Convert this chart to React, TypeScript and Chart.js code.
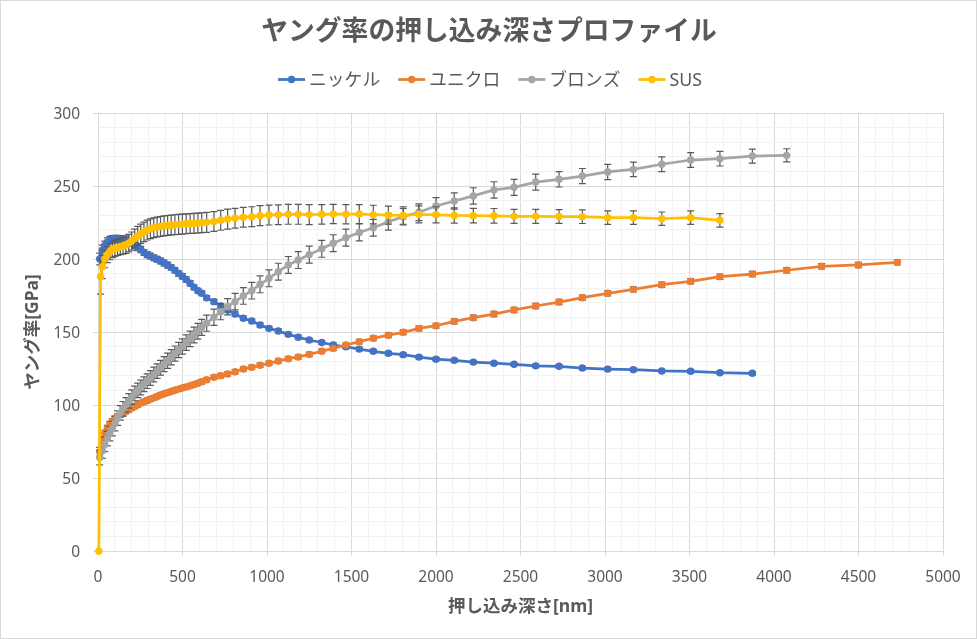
import React, { useEffect, useRef } from 'react';
import { Chart, registerables } from 'chart.js';

Chart.register(...registerables);

const TITLE = 'ヤング率の押し込み深さプロファイル';
const X_TITLE = '押し込み深さ[nm]';
const Y_TITLE = 'ヤング率[GPa]';
const SERIES_NAMES = ['ニッケル', 'ユニクロ', 'ブロンズ', 'SUS'];
const COLORS = ['#4472C4', '#ED7D31', '#A5A5A5', '#FFC000'];

// shared indentation depth grid [nm]
const DEPTH = [
  10, 25, 40, 55, 70, 85, 100, 116, 132, 148,
  165, 182, 199, 217, 235, 253, 272, 291, 310, 330,
  350, 370, 391, 412, 433, 455, 477, 499, 522, 545,
  568, 591, 614, 643, 686, 726, 767, 811, 860, 910,
  959, 1012, 1067, 1126, 1185, 1250, 1324, 1392, 1467, 1546,
  1629, 1718, 1806, 1899, 2000, 2108, 2221, 2343, 2462, 2590,
  2728, 2866, 3016, 3168, 3336, 3507, 3680, 3872, 4075, 4282,
  4499, 4730,
];

const NICKEL = [
  200, 206, 209.2, 211.5, 213, 213.5, 213.7, 213.7, 213.5, 213.2,
  212.8, 212, 210.8, 209.5, 208, 206.5, 204.5, 203, 202, 200.8,
  199.8, 198.6, 197.3, 195.8, 194.2, 192.3, 190.1, 188.2, 186, 183.4,
  180.6, 178.3, 176.5, 173.4, 170.8, 167.8, 165.1, 162.3, 159.4, 157.5,
  154.8, 152.5, 150.7, 148.4, 146.4, 144.5, 142.8, 141.1, 139.9, 138.3,
  136.8, 135.4, 134.5, 132.8, 131.4, 130.6, 129.4, 128.6, 127.9, 126.8,
  126.5, 125.3, 124.6, 124.2, 123.3, 123.1, 122.1, 121.7,
];
const NICKEL_ERR = [
  4, 3.5, 3, 3, 2.5, 2.5, 2.5, 2.5, 2.5, 2.5,
  2.2, 2.2, 2.2, 2.2, 2.2, 2.2, 2, 2, 2, 2,
  2, 2, 2, 2, 1.8, 1.8, 1.8, 1.8, 1.8, 1.8,
  1.6, 1.6, 1.6, 1.5, 1.5, 1.5, 1.5, 1.5, 1.5, 1.5,
  1.4, 1.4, 1.4, 1.4, 1.4, 1.4, 1.3, 1.3, 1.3, 1.3,
  1.3, 1.3, 1.3, 1.2, 1.2, 1.2, 1.2, 1.2, 1.2, 1.2,
  1.2, 1.2, 1.2, 1.2, 1.2, 1.2, 1.2, 1.2,
];

const UNICHRO = [
  68, 75.5, 80.5, 84, 86.8, 88.8, 90.6, 92.1, 93.3, 94.4,
  95.6, 96.8, 97.9, 99.1, 100.2, 101.3, 102.3, 103.1, 104, 104.9,
  105.8, 106.8, 107.7, 108.5, 109.3, 110.1, 110.9, 111.7, 112.4, 113.2,
  114, 114.9, 116, 117.3, 119, 120.1, 121.2, 122.8, 124.7, 125.8,
  127.2, 128.6, 130.1, 131.7, 132.9, 134.7, 136.8, 138.8, 141.1, 143.4,
  145.7, 147.8, 149.8, 152.5, 154.3, 157.3, 159.8, 162.3, 165.1, 167.8,
  170.5, 173.5, 176.5, 179.2, 182.4, 184.7, 187.9, 189.7, 192.3, 195.0,
  195.9, 197.7,
];
const UNICHRO_ERR = [
  3, 2.5, 2.2, 2, 2, 1.8, 1.8, 1.8, 1.8, 1.8,
  1.6, 1.6, 1.6, 1.6, 1.6, 1.6, 1.6, 1.6, 1.6, 1.6,
  1.5, 1.5, 1.5, 1.5, 1.5, 1.5, 1.5, 1.5, 1.5, 1.5,
  1.5, 1.5, 1.5, 1.5, 1.5, 1.5, 1.5, 1.5, 1.5, 1.5,
  1.5, 1.5, 1.5, 1.5, 1.5, 1.5, 1.5, 1.5, 1.5, 1.6,
  1.6, 1.6, 1.6, 1.7, 1.7, 1.7, 1.7, 1.8, 1.8, 1.8,
  1.8, 1.8, 1.8, 1.8, 1.8, 1.8, 1.8, 1.8, 1.8, 1.8,
  1.8, 1.8,
];

const BRONZE = [
  64, 68.5, 73, 77, 80.4, 83.8, 87.3, 91, 94.6, 97.4,
  100.1, 102.8, 105.4, 107.9, 110, 112, 114.2, 116.3, 118.5, 120.9,
  123.2, 125.5, 128, 130.3, 132.7, 135.2, 137.7, 140.1, 142.7, 145.3,
  147.9, 150.5, 153.2, 156, 160.1, 163.9, 167.3, 170.8, 174.7, 178.3,
  182.7, 186.8, 191.3, 195.9, 199.3, 203, 207, 210.8, 214.6, 218.2,
  221.4, 225.5, 229, 232, 236.3, 239.7, 243.2, 247.3, 249.1, 252.7,
  254.6, 256.8, 259.6, 261.4, 264.9, 267.8, 268.7, 270.5, 271,
];
const BRONZE_ERR = [
  5, 5, 5, 5, 5, 5, 5, 5, 5, 5,
  5, 5, 5, 5, 5, 5, 5, 5, 5, 5,
  5, 5, 5.2, 5.2, 5.2, 5.2, 5.2, 5.2, 5.3, 5.3,
  5.4, 5.4, 5.5, 5.5, 5.5, 5.5, 5.6, 5.6, 5.7, 5.7,
  5.8, 5.8, 5.8, 5.8, 5.8, 5.8, 5.8, 5.8, 5.8, 5.8,
  5.8, 5.7, 5.7, 5.7, 5.7, 5.6, 5.6, 5.6, 5.5, 5.5,
  5.3, 5.2, 5.2, 5, 5, 5, 5, 4.8, 4.5,
];

const SUS_DEPTH = [
  5, 15,
  25, 40, 55, 70, 85, 100, 116, 132, 148,
  165, 182, 199, 217, 235, 253, 272, 291, 310, 330,
  350, 370, 391, 412, 433, 455, 477, 499, 522, 545,
  568, 591, 614, 643, 686, 726, 767, 811, 860, 910,
  959, 1012, 1067, 1126, 1185, 1250, 1324, 1392, 1467, 1546,
  1629, 1718, 1806, 1899, 2000, 2108, 2221, 2343, 2462, 2590,
  2728, 2866, 3016, 3168, 3336, 3507, 3680,
];
const SUS = [
  0, 188,
  194.5, 200, 203, 205, 206.5, 207.3, 207.9, 208.5, 209.1,
  209.8, 210.9, 212.3, 214, 215.8, 217.3, 218.6, 219.8, 220.7, 221.4,
  221.9, 222.3, 222.7, 223, 223.3, 223.5, 223.7, 223.9, 224.1, 224.3,
  224.4, 224.6, 224.8, 225.1, 225.7, 226.5, 227.3, 227.9, 228.6, 229,
  229.7, 230.1, 230.3, 230.6, 230.6, 230.4, 230.6, 230.8, 230.7, 230.8,
  230.4, 230, 229.8, 230.6, 230.3, 229.8, 229.7, 229.6, 229.2, 229.2,
  229.1, 229, 228.3, 228.3, 227.6, 228.3, 226.5,
];
const SUS_ERR = [
  0, 12,
  8, 6, 5.5, 5.5, 5.5, 5.5, 5.5, 5.5, 5.8,
  6, 6, 6.2, 6.4, 6.5, 6.6, 6.7, 6.8, 6.8, 6.8,
  6.8, 6.8, 6.8, 6.8, 6.8, 6.8, 6.8, 6.8, 6.8, 6.8,
  6.8, 6.8, 6.8, 6.8, 6.8, 6.8, 6.8, 6.8, 6.8, 6.8,
  6.8, 6.8, 6.8, 6.8, 6.8, 6.8, 6.7, 6.6, 6.6, 6.5,
  6.4, 6.2, 6, 5.8, 5.5, 5.2, 5, 5, 4.8, 4.8,
  4.7, 4.7, 4.6, 4.6, 4.6, 4.6, 4.6,
];

const X_MIN = 0;
const X_MAX = 5000;
const X_STEP = 100;
const X_LABEL_STEP = 500;
const Y_MIN = 0;
const Y_MAX = 300;
const Y_STEP = 10;
const Y_LABEL_STEP = 50;

const FONT = '"Noto Sans", "Noto Sans CJK JP", sans-serif';
const TEXT_COLOR = '#595959';

const toPoints = (xs: number[], ys: number[]) => ys.map((y, i) => ({ x: xs[i], y }));

const errorBarPlugin = {
  id: 'errorBars',
  beforeDatasetDraw(chart: any, args: any) {
    const ds = chart.data.datasets[args.index];
    const errs: number[] | undefined = ds.errors;
    if (!errs) return;
    const yScale = chart.scales.y;
    const ctx = chart.ctx;
    ctx.save();
    ctx.strokeStyle = '#595959';
    ctx.lineWidth = 1.2;
    const cap = 3.5;
    args.meta.data.forEach((pt: any, i: number) => {
      const e = errs[i];
      if (!e) return;
      const v = ds.data[i].y;
      const x = pt.x;
      const t = yScale.getPixelForValue(v + e);
      const b = yScale.getPixelForValue(v - e);
      ctx.beginPath();
      ctx.moveTo(x, t);
      ctx.lineTo(x, b);
      ctx.moveTo(x - cap, t);
      ctx.lineTo(x + cap, t);
      ctx.moveTo(x - cap, b);
      ctx.lineTo(x + cap, b);
      ctx.stroke();
    });
    ctx.restore();
  },
};

const decorPlugin = {
  id: 'decor',
  beforeDraw(chart: any) {
    const ctx = chart.ctx;
    ctx.save();
    ctx.fillStyle = '#ffffff';
    ctx.fillRect(0, 0, chart.width, chart.height);
    ctx.restore();
  },
  afterDraw(chart: any) {
    const ctx = chart.ctx;
    ctx.save();
    // title
    ctx.font = `bold 26.8px ${FONT}`;
    ctx.fillStyle = TEXT_COLOR;
    ctx.textAlign = 'center';
    ctx.textBaseline = 'middle';
    ctx.fillText(TITLE, 489, 32);

    // legend
    ctx.font = `17.8px ${FONT}`;
    const lineW = 27;
    const gapAfterLine = 4;
    const gapBetween = 18;
    const widths = SERIES_NAMES.map((n) => lineW + gapAfterLine + ctx.measureText(n).width);
    const total = widths.reduce((a, b) => a + b, 0) + gapBetween * (SERIES_NAMES.length - 1);
    let x = 490 - total / 2;
    const ly = 79.5;
    SERIES_NAMES.forEach((n, i) => {
      ctx.strokeStyle = COLORS[i];
      ctx.lineWidth = 2.75;
      ctx.beginPath();
      ctx.moveTo(x, ly);
      ctx.lineTo(x + lineW, ly);
      ctx.stroke();
      ctx.fillStyle = COLORS[i];
      ctx.beginPath();
      ctx.arc(x + lineW / 2, ly, 3.7, 0, Math.PI * 2);
      ctx.fill();
      ctx.fillStyle = TEXT_COLOR;
      ctx.textAlign = 'left';
      ctx.textBaseline = 'middle';
      ctx.fillText(n, x + lineW + gapAfterLine, ly + 1);
      x += widths[i] + gapBetween;
    });

    // outer frame
    ctx.strokeStyle = '#D9D9D9';
    ctx.lineWidth = 1;
    ctx.strokeRect(0.5, 0.5, chart.width - 1, chart.height - 1);
    ctx.restore();
  },
};

export default function App() {
  const ref = useRef<HTMLCanvasElement | null>(null);

  useEffect(() => {
    document.body.style.margin = '0';
    if (!ref.current) return;
    const seriesX = [DEPTH, DEPTH, DEPTH, SUS_DEPTH];
    const seriesY = [NICKEL, UNICHRO, BRONZE, SUS];
    const seriesErr = [NICKEL_ERR, UNICHRO_ERR, BRONZE_ERR, SUS_ERR];
    const datasets = SERIES_NAMES.map((name, i) => ({
      label: name,
      data: toPoints(seriesX[i], seriesY[i]),
      errors: seriesErr[i],
      borderColor: COLORS[i],
      backgroundColor: COLORS[i],
      pointBackgroundColor: COLORS[i],
      pointBorderColor: COLORS[i],
      borderWidth: 2.75,
      pointRadius: 3.7,
      pointBorderWidth: 0,
      pointHoverRadius: 3.7,
      showLine: true,
      tension: 0,
      clip: false as any,
      order: 3 - i,
    }));

    const tickFont = { family: FONT, size: 15.5 };
    const titleFont = { family: FONT, size: 17.5, weight: 'bold' as const };

    const chart = new Chart(ref.current, {
      type: 'scatter',
      data: { datasets: datasets as any },
      plugins: [errorBarPlugin, decorPlugin],
      options: {
        animation: false,
        responsive: false,
        devicePixelRatio: 1,
        layout: { padding: { top: 113, right: 34, bottom: 0, left: 0 } },
        plugins: {
          legend: { display: false },
          title: { display: false },
          tooltip: { enabled: false },
        },
        scales: {
          x: {
            type: 'linear',
            min: X_MIN,
            max: X_MAX,
            afterFit: (s: any) => { s.height = 88; },
            ticks: {
              stepSize: X_STEP,
              autoSkip: false,
              maxRotation: 0,
              color: TEXT_COLOR,
              font: tickFont,
              padding: 12,
              callback: (v: any) => (Number(v) % X_LABEL_STEP === 0 ? String(v) : ''),
            },
            grid: {
              color: (c: any) => (c.tick && c.tick.value % X_LABEL_STEP === 0 ? '#D9D9D9' : '#F2F2F2'),
              tickColor: (c: any) => (c.tick && c.tick.value % X_LABEL_STEP === 0 ? '#D9D9D9' : 'rgba(0,0,0,0)'),
              tickLength: 5,
              lineWidth: 1,
            },
            border: { color: '#D9D9D9' },
            title: {
              display: true,
              text: X_TITLE,
              color: TEXT_COLOR,
              font: titleFont,
              padding: { top: 0, bottom: 21 },
            },
          },
          y: {
            type: 'linear',
            min: Y_MIN,
            max: Y_MAX,
            afterFit: (s: any) => { s.width = 98; },
            ticks: {
              stepSize: Y_STEP,
              autoSkip: false,
              color: TEXT_COLOR,
              font: tickFont,
              padding: 13,
              labelOffset: 1.5,
              callback: (v: any) => (Number(v) % Y_LABEL_STEP === 0 ? String(v) : ''),
            },
            grid: {
              color: (c: any) => (c.tick && c.tick.value % Y_LABEL_STEP === 0 ? '#D9D9D9' : '#F2F2F2'),
              tickColor: (c: any) => (c.tick && c.tick.value % Y_LABEL_STEP === 0 ? '#D9D9D9' : 'rgba(0,0,0,0)'),
              tickLength: 5,
              lineWidth: 1,
            },
            border: { color: '#D9D9D9' },
            title: {
              display: true,
              text: Y_TITLE,
              color: TEXT_COLOR,
              font: titleFont,
              padding: { top: 23, bottom: 0 },
            },
          },
        },
      } as any,
    });
    return () => chart.destroy();
  }, []);

  return (
    <div style={{ width: 977, height: 639 }}>
      <canvas ref={ref} width={977} height={639} style={{ display: 'block' }} />
    </div>
  );
}
